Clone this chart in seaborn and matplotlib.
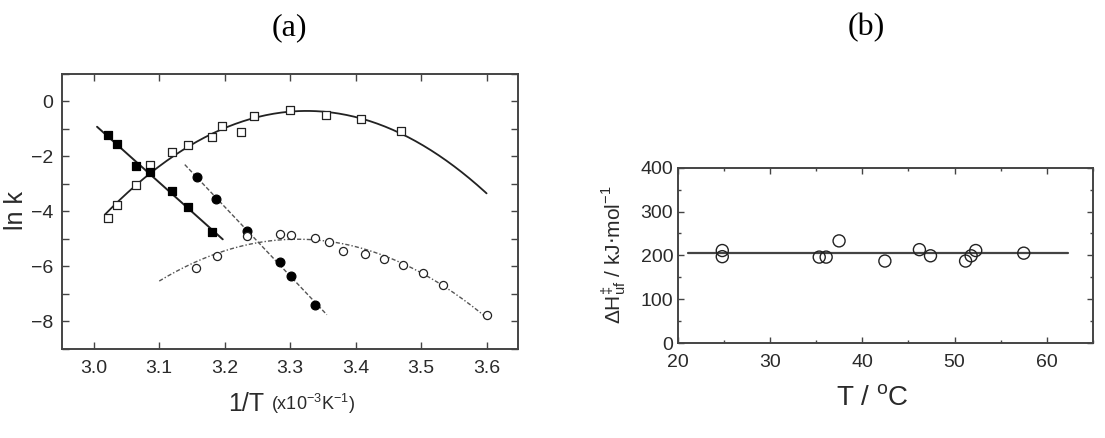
import numpy as np
import pandas as pd
import matplotlib
matplotlib.use("Agg")
import matplotlib.pyplot as plt
import seaborn as sns
from matplotlib.ticker import MultipleLocator, FormatStrFormatter, FuncFormatter

sns.set_theme(style="ticks")
plt.rcParams['font.family'] = ['Liberation Sans', 'DejaVu Sans']

# ---- panel (a) data ----
osq_x = [3.021, 3.035, 3.064, 3.086, 3.120, 3.144, 3.180, 3.196, 3.225, 3.245, 3.300, 3.354, 3.408, 3.469]
osq_y = [-4.23, -3.78, -3.04, -2.33, -1.83, -1.59, -1.28, -0.90, -1.10, -0.52, -0.32, -0.51, -0.64, -1.07]
fsq_x = [3.021, 3.035, 3.064, 3.086, 3.120, 3.144, 3.180]
fsq_y = [-1.24, -1.55, -2.36, -2.58, -3.28, -3.83, -4.75]
fci_x = [3.157, 3.187, 3.234, 3.284, 3.302, 3.338]
fci_y = [-2.75, -3.55, -4.72, -5.85, -6.35, -7.42]
oci_x = [3.156, 3.188, 3.234, 3.284, 3.302, 3.338, 3.359, 3.381, 3.414, 3.443, 3.473, 3.503, 3.534, 3.600]
oci_y = [-6.05, -5.64, -4.91, -4.84, -4.88, -4.97, -5.12, -5.43, -5.54, -5.73, -5.95, -6.25, -6.70, -7.78]

# fit line ranges
osq_range = [3.017, 3.600]
fsq_range = [3.005, 3.197]
fci_range = [3.139, 3.356]
oci_range = [3.100, 3.600]

# ---- panel (b) data ----
b_T = [24.85, 24.85, 35.35, 36.1, 37.5, 42.46, 46.2, 47.4, 51.2, 51.8, 52.3, 57.5]
b_H = [211, 197, 196, 196, 233, 187, 213, 199, 187, 199, 211, 205]
b_mean = 206
b_line_range = [21.1, 62.3]

W, H = 1105, 438
fig = plt.figure(figsize=(W / 100, H / 100), dpi=100)
axa = fig.add_axes([61.7 / W, 1 - 348.5 / H, 456.3 / W, 274.5 / H])
axb = fig.add_axes([677.5 / W, 1 - 343.0 / H, 415.5 / W, 175.3 / H])

txtc = '#2a2a2a'
spc = '#444444'

def fitline(x, y, rng, deg):
    p = np.polyfit(x, y, deg)
    xx = np.linspace(rng[0], rng[1], 200)
    return pd.DataFrame({'x': xx, 'y': np.polyval(p, xx)})

# curves
d = fitline(osq_x, osq_y, osq_range, 2)
sns.lineplot(data=d, x='x', y='y', ax=axa, color='#222222', lw=1.3, sort=False)
d = fitline(fsq_x, fsq_y, fsq_range, 1)
sns.lineplot(data=d, x='x', y='y', ax=axa, color='#222222', lw=1.4, sort=False)
d = fitline(fci_x, fci_y, fci_range, 1)
sns.lineplot(data=d, x='x', y='y', ax=axa, color='#555555', lw=1.0, sort=False, linestyle=(0, (3, 1.5)))
d = fitline(oci_x, oci_y, oci_range, 2)
sns.lineplot(data=d, x='x', y='y', ax=axa, color='#555555', lw=1.0, sort=False, linestyle=(0, (3, 1.5, 1, 1.5)))

# markers
sns.scatterplot(x=osq_x, y=osq_y, ax=axa, marker='s', s=30, facecolor='white', edgecolor='#222222', linewidth=0.9, zorder=5)
sns.scatterplot(x=fsq_x, y=fsq_y, ax=axa, marker='s', s=32, color='black', edgecolor='black', linewidth=0.9, zorder=5)
sns.scatterplot(x=fci_x, y=fci_y, ax=axa, marker='o', s=40, color='black', edgecolor='black', linewidth=0.9, zorder=5)
sns.scatterplot(x=oci_x, y=oci_y, ax=axa, marker='o', s=34, facecolor='white', edgecolor='#222222', linewidth=0.9, zorder=5)

axa.set_xlim(2.951, 3.648)
axa.set_ylim(-9.0, 1.0)
axa.xaxis.set_major_locator(MultipleLocator(0.1))
axa.yaxis.set_major_locator(MultipleLocator(2))
axa.yaxis.set_minor_locator(MultipleLocator(1))
axa.xaxis.set_major_formatter(FormatStrFormatter('%.1f'))
axa.yaxis.set_major_formatter(FuncFormatter(lambda v, p: f"{int(round(v))}".replace('-', '\u2212')))
axa.tick_params(which='both', direction='in', top=True, right=True, labelsize=14,
                colors=spc, labelcolor=txtc, width=1.0, length=5)
axa.tick_params(axis='x', pad=8)
axa.tick_params(axis='y', pad=6)
axa.set_xlabel('')
axa.set_ylabel('')
for s in axa.spines.values():
    s.set_color(spc); s.set_linewidth(1.4)

fig.text(16 / W, 1 - 211 / H, 'ln k', rotation=90, ha='center', va='center', fontsize=18, color=txtc)
fig.text(264 / W, 1 - 404 / H, '1/T', ha='right', va='center', fontsize=18, color=txtc)
fig.text(271 / W, 1 - 404 / H, r'(x10$^{\mathregular{-3}}$K$^{\mathregular{-1}}$)', ha='left', va='center',
         fontsize=13, color=txtc)

# panel b
sns.lineplot(x=b_line_range, y=[b_mean, b_mean], ax=axb, color='#444444', lw=1.6)
sns.scatterplot(x=b_T, y=b_H, ax=axb, marker='o', s=75, facecolor='none', edgecolor='#222222', linewidth=1.0, zorder=5)
axb.set_xlim(20, 65)
axb.set_ylim(0, 400)
axb.xaxis.set_major_locator(MultipleLocator(10))
axb.xaxis.set_minor_locator(MultipleLocator(5))
axb.yaxis.set_major_locator(MultipleLocator(100))
axb.yaxis.set_minor_locator(MultipleLocator(50))
axb.tick_params(which='both', direction='in', top=True, right=True, labelsize=14,
                colors=spc, labelcolor=txtc, width=1.0)
axb.tick_params(which='major', length=4)
axb.tick_params(which='minor', length=2.5)
axb.tick_params(axis='x', pad=8)
axb.tick_params(axis='y', pad=3)
axb.set_xlabel('')
axb.set_ylabel('')
for s in axb.spines.values():
    s.set_color(spc); s.set_linewidth(1.4)

fig.text(872 / W, 1 - 399 / H, 'T / $^{\\mathregular{o}}$C', ha='center', va='center', fontsize=20, color=txtc)
fig.text(614 / W, 1 - 255 / H,
         '$\\mathregular{\\Delta H^{\\ddag}_{uf}}$ / kJ$\\cdot$mol$^{\\mathregular{-1}}$',
         rotation=90, ha='center', va='center', fontsize=15, color=txtc)

fig.text(289 / W, 1 - 28 / H, '(a)', ha='center', va='center', fontsize=23,
         family=['Liberation Serif', 'DejaVu Serif'], color='black')
fig.text(866 / W, 1 - 28 / H, '(b)', ha='center', va='center', fontsize=23,
         family=['Liberation Serif', 'DejaVu Serif'], color='black')

fig.savefig('out.png', dpi=100)
